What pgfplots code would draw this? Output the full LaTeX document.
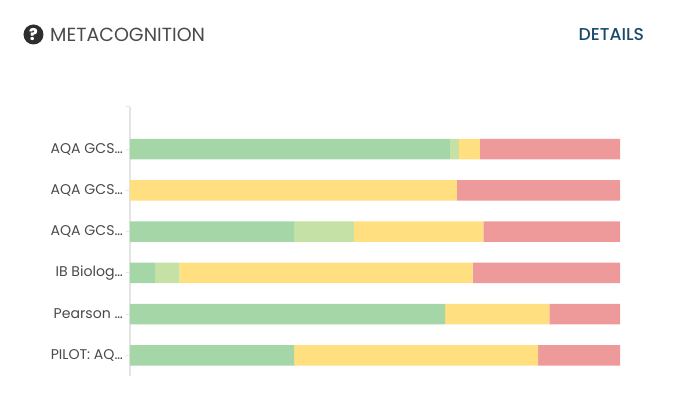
\documentclass[border=0pt]{standalone}
\usepackage{pgfplots}
\pgfplotsset{compat=1.18}
\usepackage{fontspec}
\setmainfont{Poppins}
\newfontfamily\pmed{Poppins Medium}
\definecolor{cg}{HTML}{A5D6A7}
\definecolor{clg}{HTML}{C5E1A5}
\definecolor{cy}{HTML}{FFDF80}
\definecolor{cr}{HTML}{EF9A9A}
\definecolor{txt}{HTML}{4A4A4A}
\definecolor{det}{HTML}{1A4A6B}
\definecolor{axl}{HTML}{E4E4E4}
\begin{document}
\begin{tikzpicture}[x=1pt,y=1pt]
\path (-130,-26) rectangle (547,376);
\begin{axis}[
  at={(0,0)},anchor=south west,
  scale only axis,width=490pt,height=269pt,
  xmin=0,xmax=100,ymin=-1.02,ymax=5.5,
  y dir=reverse,
  xbar stacked,bar width=20.5pt,
  axis x line=none,
  axis y line*=left,
  axis line style={draw=axl,line width=1.4pt,-},
  ytick={-1.02,0,1,2,3,4,5},
  yticklabels={{},{AQA GCS…},{AQA GCS…},{AQA GCS…},{IB Biolog…},{Pearson …},{PILOT: AQ…}},
  tick align=outside,
  major tick length=4pt,
  every tick/.style={draw=axl,line width=1pt},
  yticklabel style={font=\fontsize{14.1}{15}\selectfont,text=txt,inner sep=0pt,xshift=-3pt},
  clip=false,
]
\addplot[fill=cg,draw=none] coordinates {(65.3,0) (0,1) (33.5,2) (5.1,3) (64.3,4) (33.5,5)};
\addplot[fill=clg,draw=none] coordinates {(1.8,0) (0,1) (12.2,2) (5.0,3) (0,4) (0,5)};
\addplot[fill=cy,draw=none] coordinates {(4.3,0) (66.7,1) (26.4,2) (59.8,3) (21.3,4) (49.8,5)};
\addplot[fill=cr,draw=none] coordinates {(28.6,0) (33.3,1) (27.9,2) (30.1,3) (14.4,4) (16.7,5)};
\end{axis}
\fill[black!82] (-96.5,341.5) circle (10);
\node[text=white,font=\pmed\fontsize{16}{16}\selectfont\bfseries] at (-96.5,341.5) {?};
\node[anchor=base west,inner sep=0pt,text=txt,font=\fontsize{19}{21}\selectfont] at (-80,334.8) {METACOGNITION};
\node[anchor=base east,inner sep=0pt,text=det,font=\pmed\fontsize{17.2}{19}\selectfont] at (514.3,335.3) {DETAILS};
\end{tikzpicture}
\end{document}
